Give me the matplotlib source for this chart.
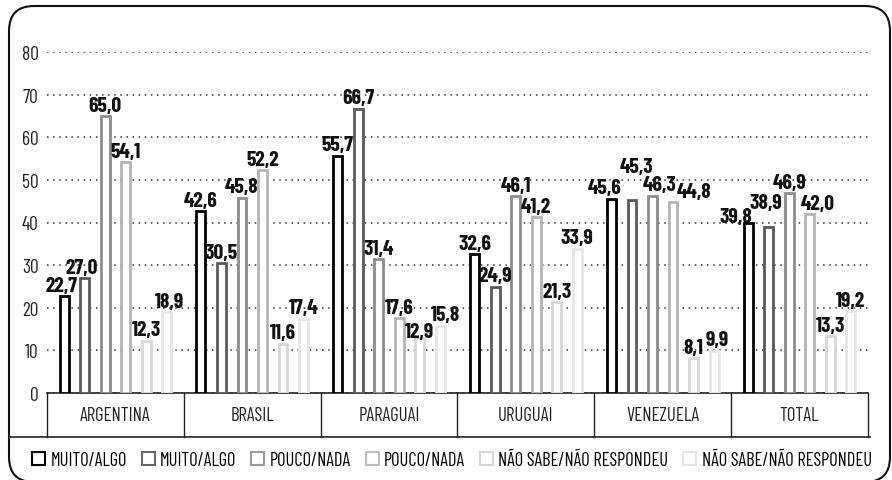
import matplotlib
matplotlib.use('Agg')
import matplotlib.pyplot as plt
import matplotlib.patches as patches
from matplotlib.lines import Line2D
from matplotlib.transforms import IdentityTransform, blended_transform_factory
import numpy as np

### Data

countries = ['ARGENTINA', 'BRASIL', 'PARAGUAI', 'URUGUAI', 'VENEZUELA', 'TOTAL']
series_names = ['MUITO/ALGO', 'MUITO/ALGO', 'POUCO/NADA', 'POUCO/NADA',
                'NÃO SABE/NÃO RESPONDEU', 'NÃO SABE/NÃO RESPONDEU']
muito_algo_1 = [22.7, 42.6, 55.7, 32.6, 45.6, 39.8]
muito_algo_2 = [27.0, 30.5, 66.7, 24.9, 45.3, 38.9]
pouco_nada_1 = [65.0, 45.8, 31.4, 46.1, 46.3, 46.9]
pouco_nada_2 = [54.1, 52.2, 17.6, 41.2, 44.8, 42.0]
nao_sabe_1 = [12.3, 11.6, 12.9, 21.3, 8.1, 13.3]
nao_sabe_2 = [18.9, 17.4, 15.8, 33.9, 9.9, 19.2]
y_ticks = [0, 10, 20, 30, 40, 50, 60, 70, 80]

### Style

edge_colors = ['#000000', '#5a5a5a', '#8c8c8c', '#b4b4b4', '#d6d6d6', '#e6e6e6']
legend_colors = ['#000000', '#666666', '#999999', '#bdbdbd', '#d6d6d6', '#e6e6e6']
bar_w = 0.065
step = 0.15
# label nudges in points, keyed by (country index, series index)
nudges = {(0, 0): (-2, 0), (0, 1): (-2, 0), (0, 5): (2, 0),
          (2, 4): (0, -3), (2, 5): (3.5, 0),
          (4, 0): (-5, 0), (4, 1): (3, 16), (4, 2): (5, 0), (4, 3): (15, 0),
          (4, 5): (2, 0),
          (5, 0): (-9, -3), (5, 1): (-2, 10), (5, 3): (6, 0)}

plt.rcParams['font.family'] = ['Barlow Condensed', 'DejaVu Sans']

fig = plt.figure(figsize=(8.92, 4.81), dpi=100)
ax = fig.add_axes([47 / 892, 1 - 394 / 481, (868 - 47) / 892, (394 - 53) / 481])

series = [muito_algo_1, muito_algo_2, pouco_nada_1, pouco_nada_2, nao_sabe_1, nao_sabe_2]
x = np.arange(len(countries))
for i, vals in enumerate(series):
    xs = x + (i - 2.5) * step
    ax.bar(xs, vals, width=bar_w, facecolor='white', edgecolor=edge_colors[i],
           linewidth=2, zorder=3)
    for j, (xx, v) in enumerate(zip(xs, vals)):
        dx, dy = nudges.get((j, i), (0, 0))
        ax.annotate(f'{v:.1f}'.replace('.', ','), (xx, v), xytext=(dx, 1 + dy),
                    textcoords='offset points', ha='center', va='bottom',
                    fontsize=15.5, fontweight='bold', color='#111111', zorder=4)

ax.set_xlim(-0.5, len(countries) - 0.5)
ax.set_ylim(0, 80)
ax.set_yticks(y_ticks)
ax.set_yticklabels([str(t) for t in y_ticks], fontsize=14, color='#222222')
ax.set_xticks([])
ax.tick_params(axis='y', length=0, pad=6)
ax.yaxis.grid(True, linestyle=(0, (1, 3)), color='#333333', linewidth=1.1)
ax.set_axisbelow(True)
for s in ['top', 'right', 'left']:
    ax.spines[s].set_visible(False)
ax.spines['bottom'].set_color('#222222')
ax.spines['bottom'].set_linewidth(1.2)
ax.patch.set_alpha(0)

# category table below the axis
trans = blended_transform_factory(ax.transData, ax.transAxes)
table_bottom = -44 / 341
for b in np.arange(-0.5, len(countries), 1.0):
    ax.add_line(Line2D([b, b], [0, table_bottom], transform=trans, color='#222222',
                       linewidth=1, clip_on=False))
for xx, name in zip(x, countries):
    ax.text(xx, table_bottom / 2, name, transform=trans, ha='center', va='center',
            fontsize=13.5, color='#222222')

fig.add_artist(Line2D([9 / 892, 870 / 892], [1 - 438 / 481, 1 - 438 / 481],
                      transform=fig.transFigure, color='#222222', linewidth=1.2))

# legend
handles = [patches.Patch(facecolor='white', edgecolor=c, linewidth=1.5) for c in legend_colors]
fig.legend(handles, series_names, loc='center', bbox_to_anchor=(452 / 892, 1 - 461 / 481), ncol=6,
           frameon=False, fontsize=13.3, handlelength=0.7, handleheight=0.7,
           handletextpad=0.3, columnspacing=0.8, borderpad=0)

# rounded outer border
border = patches.FancyBboxPatch((34, 23), 890 - 34 - 25, 426,
                                boxstyle='round,pad=25', transform=IdentityTransform(),
                                facecolor='none', edgecolor='#111111', linewidth=1.5)
fig.add_artist(border)

fig.savefig('out.png', dpi=100)
